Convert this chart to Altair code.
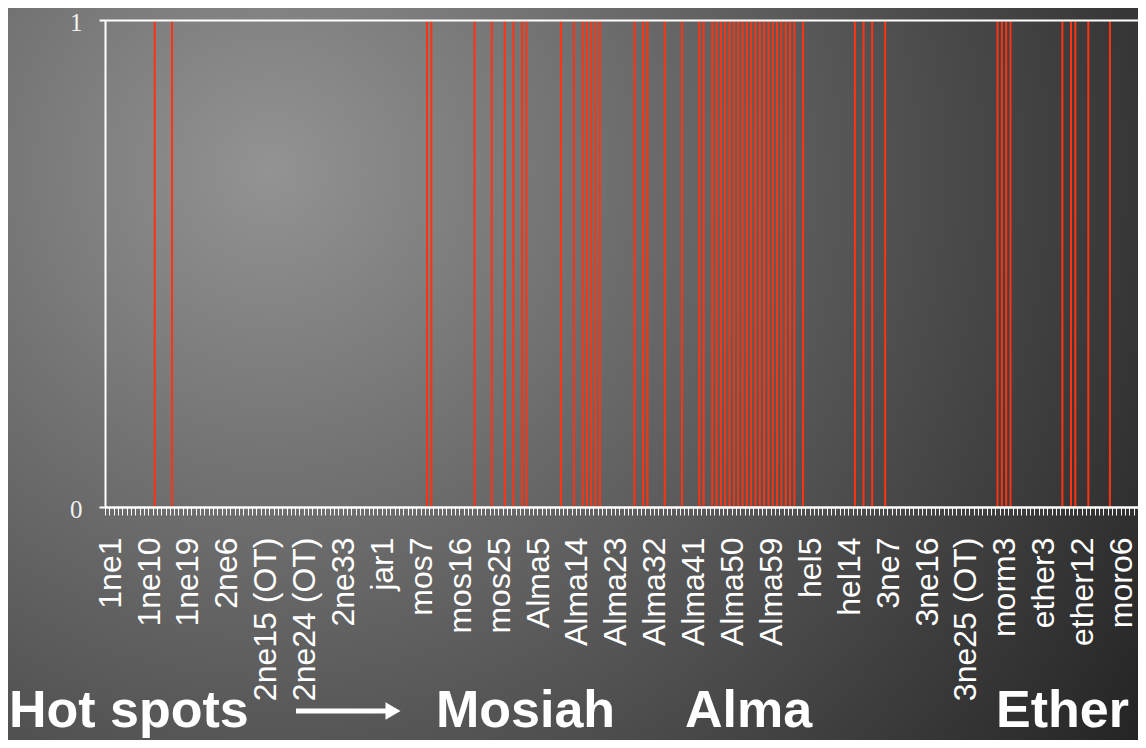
import altair as alt
import pandas as pd

# ---- data ----
books = ["1ne", "2ne", "jac", "enos", "jar", "omni", "wom", "mos", "Alma",
         "hel", "3ne", "4ne", "morm", "ether", "moro"]
chapter_counts = [22, 33, 7, 1, 1, 1, 1, 29, 63, 16, 30, 1, 9, 15, 10]
ot_chapters = ["1ne20", "1ne21", "2ne7", "2ne8", "2ne12", "2ne13", "2ne14",
               "2ne15", "2ne16", "2ne17", "2ne18", "2ne19", "2ne20", "2ne21",
               "2ne22", "2ne23", "2ne24", "2ne27", "mos14", "3ne22", "3ne24",
               "3ne25"]
hot_spots = ["1ne12", "1ne16",
             "mos9", "mos10", "mos20", "mos24", "mos27", "mos29",
             "Alma2", "Alma3", "Alma11", "Alma14", "Alma16", "Alma17", "Alma18",
             "Alma19", "Alma20", "Alma28", "Alma30", "Alma31", "Alma35",
             "Alma39", "Alma43", "Alma44", "Alma46", "Alma47", "Alma48",
             "Alma49", "Alma50", "Alma51", "Alma52", "Alma53", "Alma54",
             "Alma55", "Alma56", "Alma57", "Alma58", "Alma59", "Alma60",
             "Alma61", "Alma62", "Alma63",
             "hel1", "hel2", "hel4", "hel16",
             "3ne2", "3ne4", "3ne7",
             "morm2", "morm3", "morm4", "morm5",
             "ether8", "ether10", "ether11", "ether14",
             "moro4"]
label_every = 9

base_names = []
for b, n in zip(books, chapter_counts):
    for c in range(1, n + 1):
        base_names.append(f"{b}{c}")
names = [n + " (OT)" if n in ot_chapters else n for n in base_names]
values = [1 if n in hot_spots else 0 for n in base_names]

df = pd.DataFrame({"idx": list(range(len(names))), "name": names, "value": values})
df["zero"] = 0

arr = "[" + ",".join("'" + n + "'" for n in names) + "]"
label_expr = f"datum.value % {label_every} == 0 ? {arr}[datum.value] : ''"

W, H = 1033, 487

x_enc = alt.X(
    "idx:O",
    scale=alt.Scale(domain=list(range(len(names))), paddingInner=0, paddingOuter=0),
    axis=alt.Axis(
        labelExpr=label_expr, labelAngle=270, labelAlign="right",
        labelBaseline="middle", labelFont="Liberation Sans", labelFontSize=32,
        labelColor="#ffffff", labelPadding=22, labelOffset=3,
        labelOverlap=False, labelLimit=400,
        tickSize=8, tickColor="#ffffff", tickWidth=1, tickBand="extent",
        domainColor="#ffffff", domainWidth=2, grid=False, title=None, zindex=1,
    ),
)
y_enc = alt.Y(
    "value:Q",
    scale=alt.Scale(domain=[0, 1], nice=False),
    axis=alt.Axis(
        values=[0, 1], format="d", labelFont="Liberation Serif", labelFontSize=25,
        labelColor="#f2f2f2", labelPadding=17, labelOffset=2,
        tickSize=6, tickColor="#ffffff", tickWidth=2,
        domainColor="#ffffff", domainWidth=2,
        grid=True, gridColor="#ffffff", gridWidth=2, gridOpacity=1,
        title=None, zindex=1,
    ),
)

one = pd.DataFrame({"k": [0]})

background = alt.Chart(one).mark_rect(
    fill={
        "gradient": "radial",
        "x1": 0.2319, "y1": 0.3230, "r1": 0,
        "x2": 0.2319, "y2": 0.3230, "r2": 0.929,
        "stops": [
            {"offset": 0, "color": "#939393"},
            {"offset": 0.5, "color": "#5b5b5b"},
            {"offset": 1, "color": "#232323"},
        ],
    }
).encode(
    x=alt.value(-97), x2=alt.value(1033), y=alt.value(-215), y2=alt.value(915)
)

bars = alt.Chart(df).mark_rule(color="#ff3311", strokeWidth=2).encode(
    x=x_enc, y=y_enc, y2="zero:Q"
).transform_filter("datum.value > 0")

def annot(text, x):
    return alt.Chart(one).mark_text(
        font="Liberation Sans", fontWeight="bold", fontSize=52, color="#ffffff",
        align="left", baseline="alphabetic"
    ).encode(x=alt.value(x), y=alt.value(707), text=alt.value(text))

arrow_line = alt.Chart(one).mark_rule(color="#ffffff", strokeWidth=5).encode(
    x=alt.value(191), x2=alt.value(282), y=alt.value(691)
)
arrow_head = alt.Chart(one).mark_point(
    shape="triangle-right", filled=True, color="#ffffff", opacity=1, size=300
).encode(x=alt.value(288), y=alt.value(691))

chart = alt.layer(
    background, bars,
    annot("Hot spots", -96), annot("Mosiah", 331), annot("Alma", 580), annot("Ether", 891),
    arrow_line, arrow_head,
).properties(
    width=W, height=H,
    autosize=alt.AutoSizeParams(type="none"),
    padding={"left": 97, "top": 12, "right": 0, "bottom": 233},
).configure_view(stroke=None).configure(background="#555555")

chart.save("out.html", embed_options={"renderer": "svg", "actions": False})
